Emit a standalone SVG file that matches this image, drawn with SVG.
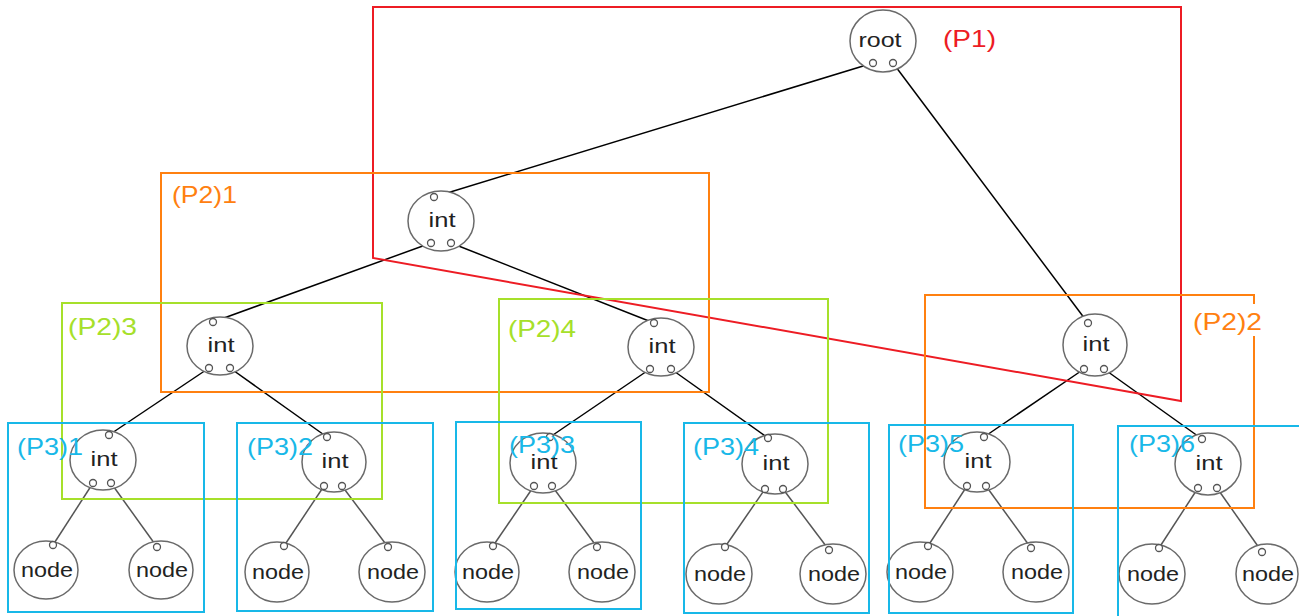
<svg xmlns="http://www.w3.org/2000/svg" width="1299" height="616" viewBox="0 0 1299 616">
  <style>
    .body { fill: #ffffff; stroke: #6a6a6a; stroke-width: 1.5; }
    .port { fill: #ffffff; stroke: #555555; stroke-width: 1.3; }
    .lbl { font-family: "Liberation Sans", Arial, sans-serif; font-size: 21px; fill: #222222; text-anchor: middle; }
    .edge { stroke: #000000; stroke-width: 1.5; fill: none; }
    .leafedge { stroke: #555555; stroke-width: 1.5; fill: none; }
    .part { fill: none; stroke-width: 2; }
    .p1 { stroke: #ed1c24; }
    .p2a { stroke: #ff8010; }
    .p2b { stroke: #a6e02a; }
    .p3 { stroke: #18b8e8; }
    .tag { font-family: "Liberation Sans", Arial, sans-serif; font-size: 24px; }
  </style>

  <!-- connectors -->
  <g id="connectors">
    <line class="edge" x1="873" y1="63" x2="434" y2="197"/>
    <line class="edge" x1="893" y1="63" x2="1088" y2="323"/>
    <line class="edge" x1="431" y1="243" x2="213" y2="322"/>
    <line class="edge" x1="451" y1="243" x2="654" y2="323"/>
    <line class="edge" x1="209" y1="368" x2="109" y2="435"/>
    <line class="edge" x1="230" y1="368" x2="327" y2="437"/>
    <line class="edge" x1="650" y1="369" x2="550" y2="437"/>
    <line class="edge" x1="671" y1="369" x2="768" y2="438"/>
    <line class="edge" x1="1084" y1="369" x2="984" y2="437"/>
    <line class="edge" x1="1104" y1="369" x2="1202" y2="439"/>

    <line class="leafedge" x1="93" y1="483" x2="53" y2="545"/>
    <line class="leafedge" x1="111" y1="483" x2="157" y2="547"/>
    <line class="leafedge" x1="324" y1="486" x2="284" y2="546"/>
    <line class="leafedge" x1="342" y1="486" x2="388" y2="547"/>
    <line class="leafedge" x1="534" y1="486" x2="493" y2="546"/>
    <line class="leafedge" x1="552" y1="486" x2="597" y2="547"/>
    <line class="leafedge" x1="765" y1="489" x2="725" y2="547"/>
    <line class="leafedge" x1="783" y1="489" x2="829" y2="550"/>
    <line class="leafedge" x1="967" y1="486" x2="928" y2="546"/>
    <line class="leafedge" x1="986" y1="486" x2="1031" y2="548"/>
    <line class="leafedge" x1="1198" y1="488" x2="1159" y2="548"/>
    <line class="leafedge" x1="1217" y1="488" x2="1262" y2="552"/>
  </g>

  <!-- root -->
  <g id="root">
    <ellipse class="body" cx="883" cy="41" rx="33" ry="31"/>
    <text class="lbl" x="880" y="47" textLength="43" lengthAdjust="spacingAndGlyphs">root</text>
    <circle class="port" cx="873" cy="63" r="3.5"/>
    <circle class="port" cx="893" cy="63" r="3.5"/>
  </g>

  <!-- internal nodes, level 1 -->
  <g id="int-a">
    <ellipse class="body" cx="441" cy="221" rx="33" ry="30"/>
    <text class="lbl" x="442" y="227" textLength="27" lengthAdjust="spacingAndGlyphs">int</text>
    <circle class="port" cx="434" cy="197" r="3.5"/>
    <circle class="port" cx="431" cy="243" r="3.5"/>
    <circle class="port" cx="451" cy="243" r="3.5"/>
  </g>
  <g id="int-b">
    <ellipse class="body" cx="1095" cy="345" rx="32" ry="31"/>
    <text class="lbl" x="1096" y="351" textLength="27" lengthAdjust="spacingAndGlyphs">int</text>
    <circle class="port" cx="1088" cy="323" r="3.5"/>
    <circle class="port" cx="1084" cy="369" r="3.5"/>
    <circle class="port" cx="1104" cy="369" r="3.5"/>
  </g>

  <!-- internal nodes, level 2 -->
  <g id="int-c">
    <ellipse class="body" cx="220" cy="346" rx="33" ry="29"/>
    <text class="lbl" x="221" y="352" textLength="27" lengthAdjust="spacingAndGlyphs">int</text>
    <circle class="port" cx="213" cy="322" r="3.5"/>
    <circle class="port" cx="209" cy="368" r="3.5"/>
    <circle class="port" cx="230" cy="368" r="3.5"/>
  </g>
  <g id="int-d">
    <ellipse class="body" cx="661" cy="347" rx="33" ry="29"/>
    <text class="lbl" x="662" y="353" textLength="27" lengthAdjust="spacingAndGlyphs">int</text>
    <circle class="port" cx="654" cy="323" r="3.5"/>
    <circle class="port" cx="650" cy="369" r="3.5"/>
    <circle class="port" cx="671" cy="369" r="3.5"/>
  </g>

  <!-- internal nodes, level 3 -->
  <g id="int-e">
    <ellipse class="body" cx="103" cy="460" rx="33" ry="30"/>
    <text class="lbl" x="104" y="466" textLength="27" lengthAdjust="spacingAndGlyphs">int</text>
    <circle class="port" cx="109" cy="435" r="3.5"/>
    <circle class="port" cx="93" cy="483" r="3.5"/>
    <circle class="port" cx="111" cy="483" r="3.5"/>
  </g>
  <g id="int-f">
    <ellipse class="body" cx="334" cy="462" rx="32" ry="30"/>
    <text class="lbl" x="335" y="468" textLength="27" lengthAdjust="spacingAndGlyphs">int</text>
    <circle class="port" cx="327" cy="437" r="3.5"/>
    <circle class="port" cx="324" cy="486" r="3.5"/>
    <circle class="port" cx="342" cy="486" r="3.5"/>
  </g>
  <g id="int-g">
    <ellipse class="body" cx="543" cy="463" rx="33" ry="30"/>
    <text class="lbl" x="544" y="469" textLength="27" lengthAdjust="spacingAndGlyphs">int</text>
    <circle class="port" cx="550" cy="437" r="3.5"/>
    <circle class="port" cx="534" cy="486" r="3.5"/>
    <circle class="port" cx="552" cy="486" r="3.5"/>
  </g>
  <g id="int-h">
    <ellipse class="body" cx="775" cy="464" rx="33" ry="30"/>
    <text class="lbl" x="776" y="470" textLength="27" lengthAdjust="spacingAndGlyphs">int</text>
    <circle class="port" cx="768" cy="438" r="3.5"/>
    <circle class="port" cx="765" cy="489" r="3.5"/>
    <circle class="port" cx="783" cy="489" r="3.5"/>
  </g>
  <g id="int-i">
    <ellipse class="body" cx="977" cy="462" rx="33" ry="30"/>
    <text class="lbl" x="978" y="468" textLength="27" lengthAdjust="spacingAndGlyphs">int</text>
    <circle class="port" cx="984" cy="437" r="3.5"/>
    <circle class="port" cx="967" cy="486" r="3.5"/>
    <circle class="port" cx="986" cy="486" r="3.5"/>
  </g>
  <g id="int-j">
    <ellipse class="body" cx="1208" cy="464" rx="33" ry="31"/>
    <text class="lbl" x="1209" y="470" textLength="27" lengthAdjust="spacingAndGlyphs">int</text>
    <circle class="port" cx="1202" cy="439" r="3.5"/>
    <circle class="port" cx="1198" cy="488" r="3.5"/>
    <circle class="port" cx="1217" cy="488" r="3.5"/>
  </g>

  <!-- leaves -->
  <g id="leaf-1">
    <ellipse class="body" cx="46" cy="570" rx="32" ry="29"/>
    <text class="lbl" x="47" y="577" textLength="52" lengthAdjust="spacingAndGlyphs">node</text>
    <circle class="port" cx="53" cy="545" r="3.5"/>
  </g>
  <g id="leaf-2">
    <ellipse class="body" cx="161" cy="570" rx="32" ry="29"/>
    <text class="lbl" x="162" y="577" textLength="52" lengthAdjust="spacingAndGlyphs">node</text>
    <circle class="port" cx="157" cy="547" r="3.5"/>
  </g>
  <g id="leaf-3">
    <ellipse class="body" cx="277" cy="572" rx="32" ry="30"/>
    <text class="lbl" x="278" y="579" textLength="52" lengthAdjust="spacingAndGlyphs">node</text>
    <circle class="port" cx="284" cy="546" r="3.5"/>
  </g>
  <g id="leaf-4">
    <ellipse class="body" cx="392" cy="572" rx="33" ry="30"/>
    <text class="lbl" x="393" y="579" textLength="52" lengthAdjust="spacingAndGlyphs">node</text>
    <circle class="port" cx="388" cy="547" r="3.5"/>
  </g>
  <g id="leaf-5">
    <ellipse class="body" cx="487" cy="572" rx="32" ry="30"/>
    <text class="lbl" x="488" y="579" textLength="52" lengthAdjust="spacingAndGlyphs">node</text>
    <circle class="port" cx="493" cy="546" r="3.5"/>
  </g>
  <g id="leaf-6">
    <ellipse class="body" cx="602" cy="572" rx="33" ry="30"/>
    <text class="lbl" x="603" y="579" textLength="52" lengthAdjust="spacingAndGlyphs">node</text>
    <circle class="port" cx="597" cy="547" r="3.5"/>
  </g>
  <g id="leaf-7">
    <ellipse class="body" cx="719" cy="574" rx="33" ry="30"/>
    <text class="lbl" x="720" y="581" textLength="52" lengthAdjust="spacingAndGlyphs">node</text>
    <circle class="port" cx="725" cy="547" r="3.5"/>
  </g>
  <g id="leaf-8">
    <ellipse class="body" cx="833" cy="574" rx="33" ry="30"/>
    <text class="lbl" x="834" y="581" textLength="52" lengthAdjust="spacingAndGlyphs">node</text>
    <circle class="port" cx="829" cy="550" r="3.5"/>
  </g>
  <g id="leaf-9">
    <ellipse class="body" cx="920" cy="572" rx="33" ry="30"/>
    <text class="lbl" x="921" y="579" textLength="52" lengthAdjust="spacingAndGlyphs">node</text>
    <circle class="port" cx="928" cy="546" r="3.5"/>
  </g>
  <g id="leaf-10">
    <ellipse class="body" cx="1036" cy="572" rx="33" ry="30"/>
    <text class="lbl" x="1037" y="579" textLength="52" lengthAdjust="spacingAndGlyphs">node</text>
    <circle class="port" cx="1031" cy="548" r="3.5"/>
  </g>
  <g id="leaf-11">
    <ellipse class="body" cx="1152" cy="574" rx="33" ry="30"/>
    <text class="lbl" x="1153" y="581" textLength="52" lengthAdjust="spacingAndGlyphs">node</text>
    <circle class="port" cx="1159" cy="548" r="3.5"/>
  </g>
  <g id="leaf-12">
    <ellipse class="body" cx="1267" cy="574" rx="31" ry="30"/>
    <text class="lbl" x="1268" y="581" textLength="52" lengthAdjust="spacingAndGlyphs">node</text>
    <circle class="port" cx="1262" cy="552" r="3.5"/>
  </g>

  <!-- partition outlines -->
  <g id="partitions">
    <polygon class="part p1" points="373,7 1181,7 1181,401 373,258"/>
    <rect class="part p2a" x="161" y="173" width="548" height="219"/>
    <rect class="part p2a" x="925" y="295" width="329" height="213"/>
    <rect class="part p2b" x="62" y="303" width="320" height="196"/>
    <rect class="part p2b" x="499" y="299" width="329" height="204"/>
    <rect class="part p3" x="8" y="423" width="196" height="189"/>
    <rect class="part p3" x="237" y="423" width="196" height="188"/>
    <rect class="part p3" x="456" y="422" width="185" height="187"/>
    <rect class="part p3" x="684" y="423" width="185" height="190"/>
    <rect class="part p3" x="889" y="425" width="184" height="188"/>
    <rect class="part p3" x="1118" y="426" width="200" height="210"/>
  </g>

  <!-- partition tags -->
  <g id="tags">
    <text class="tag" x="943" y="47" fill="#ed1c24" textLength="53" lengthAdjust="spacingAndGlyphs">(P1)</text>
    <text class="tag" x="172" y="203" fill="#ff8010" textLength="65" lengthAdjust="spacingAndGlyphs">(P2)1</text>
    <rect x="1190" y="304" width="74" height="32" fill="#ffffff"/>
    <text class="tag" x="1193" y="330" fill="#ff8010" textLength="69" lengthAdjust="spacingAndGlyphs">(P2)2</text>
    <text class="tag" x="68" y="335" fill="#a6e02a" textLength="69" lengthAdjust="spacingAndGlyphs">(P2)3</text>
    <text class="tag" x="508" y="337" fill="#a6e02a" textLength="68" lengthAdjust="spacingAndGlyphs">(P2)4</text>
    <text class="tag" x="17" y="455" fill="#18b8e8" textLength="66" lengthAdjust="spacingAndGlyphs">(P3)1</text>
    <text class="tag" x="247" y="455" fill="#18b8e8" textLength="66" lengthAdjust="spacingAndGlyphs">(P3)2</text>
    <text class="tag" x="509" y="453" fill="#18b8e8" textLength="66" lengthAdjust="spacingAndGlyphs">(P3)3</text>
    <text class="tag" x="693" y="455" fill="#18b8e8" textLength="66" lengthAdjust="spacingAndGlyphs">(P3)4</text>
    <text class="tag" x="898" y="452" fill="#18b8e8" textLength="66" lengthAdjust="spacingAndGlyphs">(P3)5</text>
    <text class="tag" x="1129" y="452" fill="#18b8e8" textLength="66" lengthAdjust="spacingAndGlyphs">(P3)6</text>
  </g>
</svg>
